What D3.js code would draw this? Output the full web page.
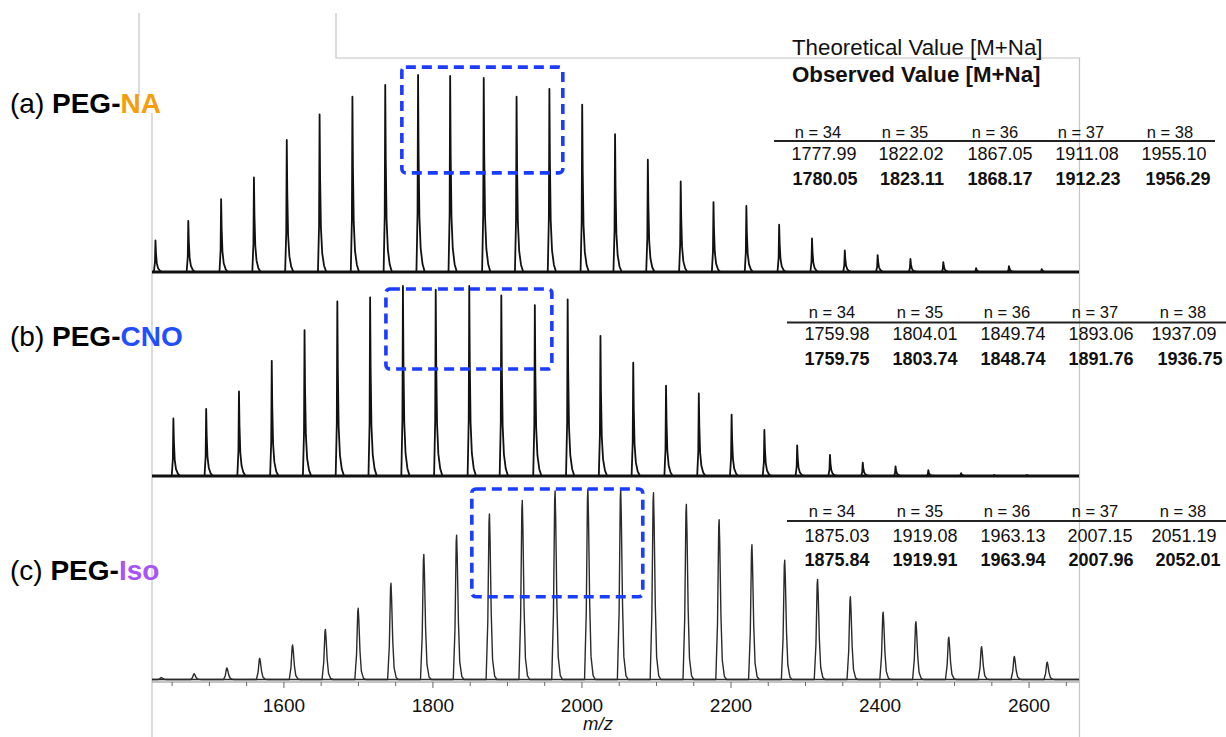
<!DOCTYPE html>
<html><head><meta charset="utf-8">
<script src="https://cdn.jsdelivr.net/npm/d3@7"></script>
<style>
html,body{margin:0;padding:0;background:#fff;}
svg{display:block;font-family:"Liberation Sans",Arial,Helvetica,sans-serif;}
</style></head><body>
<svg id="chart" width="1226" height="737"></svg>
<script>
// ---- m/z axis ----
const mzDomain = [1423, 2667];
const minorTicks = [1450,1500,1550,1600,1650,1700,1750,1800,1850,1900,1950,2000,2050,2100,2150,2200,2250,2300,2350,2400,2450,2500,2550,2600,2650];
const labelTicks = [1600, 1800, 2000, 2200, 2400, 2600];

// ---- PEG-NA spectrum: peak m/z and relative intensity (%) ----
const naMz = [1427.65,1471.70,1515.75,1559.80,1603.85,1647.90,1691.95,1736.00,1780.05,1823.11,1868.17,1912.23,1956.29,2000.3,2044.4,2088.4,2132.5,2176.5,2220.6,2264.6,2308.7,2352.7,2396.8,2440.8,2484.9,2528.9,2573.0,2617.0];
const naInt = [16,26,37,48,67,80,89,95,100,99.5,98.5,89,93,85,70,57,46,35.5,33.5,24,17,11,8.6,6.6,5,2,3,1.5];

// ---- PEG-CNO spectrum ----
const cnoMz = [1451.7,1495.7,1539.7,1583.7,1627.7,1671.7,1715.7,1759.75,1803.74,1848.74,1891.76,1936.75,1980.8,2024.8,2068.8,2112.8,2156.8,2200.8,2244.8,2288.8,2332.8,2376.8,2420.8,2464.8,2508.8,2552.8,2596.8];
const cnoInt = [30,35,44,60,76,91,93,99,97,99,94,89,92,73,59,47,43,32,24,16,11,7,5,3,1.5,0.5,0.5];

// ---- PEG-Iso spectrum ----
const isoMz = [1435.5,1479.6,1523.6,1567.6,1611.7,1655.7,1699.7,1743.7,1787.8,1831.8,1875.84,1919.91,1963.94,2007.96,2052.01,2096.0,2140.1,2184.1,2228.1,2272.1,2316.2,2360.2,2404.2,2448.2,2492.3,2536.3,2580.3,2624.4];
const isoInt = [1,3,6,11,18,26,37,50,65,75,86,93,98,99,99,97,91,83,70,62,52,43,35,30,22,17,12,9];

// ---- tables ----
const nLabels = ["n = 34","n = 35","n = 36","n = 37","n = 38"];
const naTheo = ["1777.99","1822.02","1867.05","1911.08","1955.10"];
const naObs  = ["1780.05","1823.11","1868.17","1912.23","1956.29"];
const cnoTheo = ["1759.98","1804.01","1849.74","1893.06","1937.09"];
const cnoObs  = ["1759.75","1803.74","1848.74","1891.76","1936.75"];
const isoTheo = ["1875.03","1919.08","1963.13","2007.15","2051.19"];
const isoObs  = ["1875.84","1919.91","1963.94","2007.96","2052.01"];

// highlighted windows [mz0, mz1, int0, int1]
const naBox  = [1758.3, 1974.3, 50.3, 104];
const cnoBox = [1736.9, 1959.6, 55.7, 97.4];
const isoBox = [1852.2, 2081.6, 43, 99];

const svg = d3.select("#chart");
const x = d3.scaleLinear().domain(mzDomain).range([152, 1079]);

// light frame lines of the figure layout
const frame = svg.append("g").attr("stroke", "#c4c4c4").attr("stroke-width", 1.2).attr("fill", "none");
frame.append("path").attr("d", "M139,13V96");
frame.append("path").attr("d", "M336,13V58H1079.5V737");
frame.append("path").attr("d", "M152,113V737");

// peak profiles: [m/z offset, fraction of apex]
const sharpShape = [[-2.2,0],[-0.7,0.3],[0,1],[0.7,0.6],[1.8,0.28],[3.5,0.12],[6,0.04],[9,0]];
const broadShape = [[-4.5,0],[-2.2,0.35],[-0.6,0.95],[0,1],[0.8,0.85],[2.4,0.4],[4.2,0.12],[7,0.02],[10,0]];

function trace(mz, inten, shape) {
  const pts = [[mzDomain[0], 0]];
  mz.forEach((m, i) => shape.forEach(([dm, f]) => pts.push([m + dm, inten[i] * f])));
  pts.push([mzDomain[1], 0]);
  return pts;
}

const panels = [
  {mz: naMz, int: naInt, base: 272, top: 75, shape: sharpShape, color: "#111", width: 1.8, band: 3,
   box: naBox, tag: "(a) ", name: "NA", nameColor: "#F59E0B", labelY: 113},
  {mz: cnoMz, int: cnoInt, base: 476, top: 284, shape: sharpShape, color: "#111", width: 1.8, band: 3,
   box: cnoBox, tag: "(b) ", name: "CNO", nameColor: "#1F4FFF", labelY: 346},
  {mz: isoMz, int: isoInt, base: 679.5, top: 487, shape: broadShape, color: "#2a2a2a", width: 1.4, band: 1.4,
   box: isoBox, tag: "(c) ", name: "Iso", nameColor: "#A855F7", labelY: 580}
];

panels.forEach(p => {
  const y = d3.scaleLinear().domain([0, 100]).range([p.base, p.top]);
  const g = svg.append("g");
  // baseline noise band
  g.append("line").attr("x1", x(mzDomain[0])).attr("x2", x(mzDomain[1]))
    .attr("y1", y(0)).attr("y2", y(0)).attr("stroke", p.color).attr("stroke-width", p.band);
  const line = d3.line().x(d => x(d[0])).y(d => y(d[1]));
  g.append("path").datum(trace(p.mz, p.int, p.shape)).attr("d", line)
    .attr("fill", "none").attr("stroke", p.color).attr("stroke-width", p.width)
    .attr("stroke-linejoin", "round");
  // dashed window
  const [m0, m1, i0, i1] = p.box;
  g.append("rect").attr("x", x(m0)).attr("y", y(i1))
    .attr("width", x(m1) - x(m0)).attr("height", y(i0) - y(i1))
    .attr("rx", 4).attr("fill", "none").attr("stroke", "#1A3DFF")
    .attr("stroke-width", 3.6).attr("stroke-dasharray", "10,6");
  // panel label
  const t = svg.append("text").attr("x", 10).attr("y", p.labelY).attr("font-size", 28).attr("fill", "#000");
  t.append("tspan").text(p.tag);
  t.append("tspan").attr("font-weight", "bold").text("PEG-");
  t.append("tspan").attr("font-weight", "bold").attr("fill", p.nameColor).text(p.name);
});

// x axis
const ax = svg.append("g");
ax.append("line").attr("x1", 152).attr("x2", 1079).attr("y1", 682).attr("y2", 682)
  .attr("stroke", "#8a8a8a").attr("stroke-width", 1.2);
ax.selectAll("line.tk").data(minorTicks).enter().append("line").attr("class", "tk")
  .attr("x1", d => x(d)).attr("x2", d => x(d)).attr("y1", 682)
  .attr("y2", d => labelTicks.includes(d) ? 688 : 686)
  .attr("stroke", "#666").attr("stroke-width", 1);
ax.selectAll("text.tl").data(labelTicks).enter().append("text").attr("class", "tl")
  .attr("x", d => x(d)).attr("y", 712).attr("text-anchor", "middle")
  .attr("font-size", 19).attr("fill", "#111").text(d => d);
ax.append("text").attr("x", 598).attr("y", 730).attr("text-anchor", "middle")
  .attr("font-size", 18.5).attr("font-style", "italic").attr("fill", "#111").text("m/z");

// legend of table rows
svg.append("text").attr("x", 792).attr("y", 55).attr("font-size", 22.3).attr("fill", "#111")
  .text("Theoretical Value [M+Na]");
svg.append("text").attr("x", 792).attr("y", 82).attr("font-size", 22.3).attr("font-weight", "bold").attr("fill", "#111")
  .text("Observed Value [M+Na]");

// value tables
const tables = [
  {theo: naTheo, obs: naObs, hY: 138, lineY: 141, r1: 160, r2: 185, lx: [774, 1215],
   hx: [818, 905, 995, 1081, 1170], vx: [824, 911, 1000, 1087, 1174], bx: [825, 912, 1000, 1088, 1178]},
  {theo: cnoTheo, obs: cnoObs, hY: 318, lineY: 322.5, r1: 340, r2: 365, lx: [787, 1226],
   hx: [832, 920, 1007, 1095, 1183], vx: [837, 925, 1013, 1101, 1184], bx: [837, 925, 1013, 1101, 1190]},
  {theo: isoTheo, obs: isoObs, hY: 517, lineY: 521, r1: 541.5, r2: 566, lx: [787, 1226],
   hx: [832, 920, 1007, 1095, 1183], vx: [837, 925, 1013, 1100, 1184], bx: [837, 925, 1013, 1101, 1188]}
];
tables.forEach(tb => {
  const g = svg.append("g").attr("fill", "#111").attr("text-anchor", "middle");
  g.selectAll("text.h").data(nLabels).enter().append("text").attr("class", "h")
    .attr("x", (d, i) => tb.hx[i]).attr("y", tb.hY).attr("font-size", 16.5).text(d => d);
  g.append("line").attr("x1", tb.lx[0]).attr("x2", tb.lx[1]).attr("y1", tb.lineY).attr("y2", tb.lineY)
    .attr("stroke", "#222").attr("stroke-width", 2);
  g.selectAll("text.t").data(tb.theo).enter().append("text").attr("class", "t")
    .attr("x", (d, i) => tb.vx[i]).attr("y", tb.r1).attr("font-size", 18).text(d => d);
  g.selectAll("text.o").data(tb.obs).enter().append("text").attr("class", "o")
    .attr("x", (d, i) => tb.bx[i]).attr("y", tb.r2).attr("font-size", 18).attr("font-weight", "bold").text(d => d);
});
</script>
</body></html>
